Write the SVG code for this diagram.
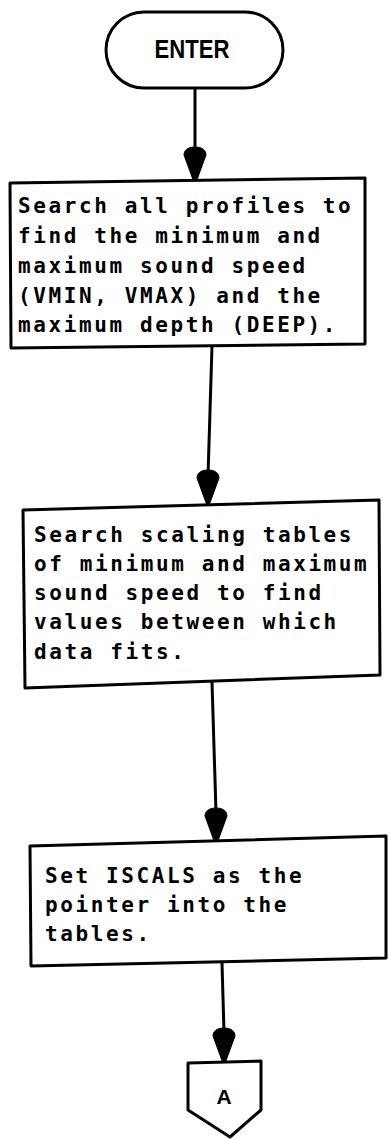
<svg xmlns="http://www.w3.org/2000/svg" width="389" height="1139" viewBox="0 0 389 1139">
<style>
.shape{fill:#fff;stroke:#000;stroke-width:3;stroke-linejoin:round;stroke-linecap:round}
.conn{fill:none;stroke:#000;stroke-width:3;stroke-linecap:round}
.ah{fill:#000;stroke:#000;stroke-width:1}
.t{font-family:"DejaVu Sans Mono","Liberation Mono",monospace;font-weight:bold;font-size:21px;letter-spacing:2.6px;fill:#000}
.term{font-family:"Liberation Sans",Arial,sans-serif;font-weight:bold;font-size:26px;fill:#000}
.lbl{font-family:"Liberation Sans",Arial,sans-serif;font-weight:bold;font-size:21px;fill:#000}
</style>
<defs>
<path id="ah" class="ah" d="M0,-34 C8,-34 11,-30 11,-26 L1.5,0 L-1.5,0 L-11,-26 C-11,-30 -8,-34 0,-34 Z"/>
</defs>
<g id="connectors">
<path class="conn" d="M195,88 L195,150"/>
<use href="#ah" x="195" y="181"/>
<path class="conn" d="M212,346 L208,476"/>
<use href="#ah" x="208" y="504"/>
<path class="conn" d="M212,682 L216,812"/>
<use href="#ah" x="216" y="842"/>
<path class="conn" d="M222,963 L224,1032"/>
<use href="#ah" x="224" y="1062"/>
</g>
<g id="enter">
<rect class="shape" x="106" y="12" width="177" height="76" rx="38" ry="38"/>
<text class="term" x="192" y="58" text-anchor="middle" textLength="75" lengthAdjust="spacingAndGlyphs">ENTER</text>
</g>
<g id="box1">
<path class="shape" d="M10,183 L365,178 L365,344 L11,348 Z"/>
<text class="t" x="18" y="213">Search all profiles to</text>
<text class="t" x="18" y="243">find the minimum and</text>
<text class="t" x="18" y="273">maximum sound speed</text>
<text class="t" x="18" y="303">(VMIN, VMAX) and the</text>
<text class="t" x="18" y="332">maximum depth (DEEP).</text>
</g>
<g id="box2">
<path class="shape" d="M23,510 L379,500 L380,675 L25,688 Z"/>
<text class="t" x="34" y="542">Search scaling tables</text>
<text class="t" x="34" y="571">of minimum and maximum</text>
<text class="t" x="34" y="600">sound speed to find</text>
<text class="t" x="34" y="629">values between which</text>
<text class="t" x="34" y="659">data fits.</text>
</g>
<g id="box3">
<path class="shape" d="M30,846 L386,836 L386,958 L31,966 Z"/>
<text class="t" x="45" y="883">Set ISCALS as the</text>
<text class="t" x="45" y="912">pointer into the</text>
<text class="t" x="45" y="941">tables.</text>
</g>
<g id="connA">
<path class="shape" d="M188,1063 L261,1061 L261,1110 L230,1137 L188,1110 Z"/>
<text class="lbl" x="224" y="1104" text-anchor="middle">A</text>
</g>
</svg>
